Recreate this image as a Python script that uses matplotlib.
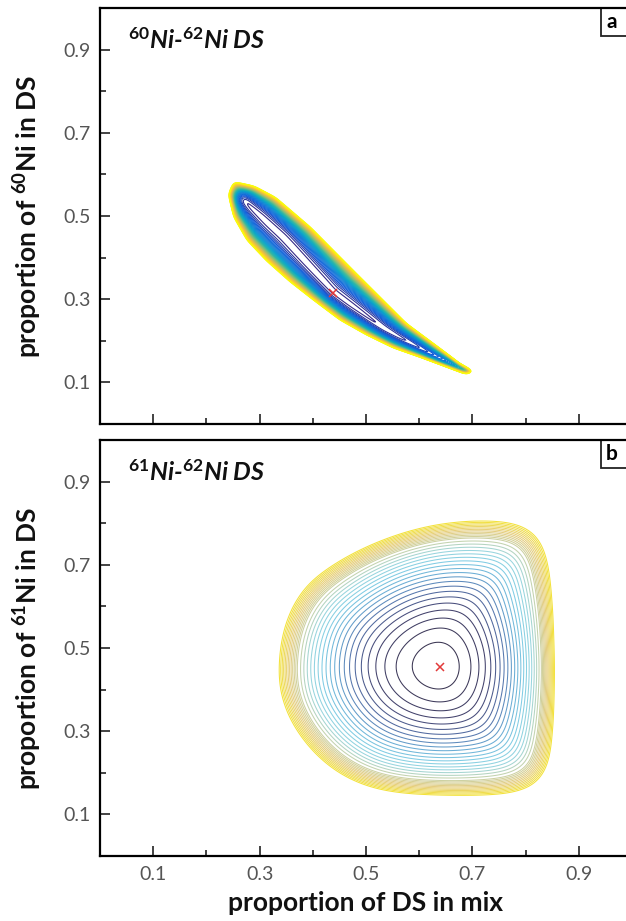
import numpy as np
import matplotlib
matplotlib.use("Agg")
import matplotlib.pyplot as plt
from matplotlib.path import Path
from matplotlib.patches import Rectangle
from matplotlib.colors import LinearSegmentedColormap

plt.rcParams['font.family'] = ['Lato', 'DejaVu Sans']
plt.rcParams['mathtext.fontset'] = 'custom'
plt.rcParams['mathtext.rm'] = 'Lato:bold'
plt.rcParams['mathtext.it'] = 'Lato:bold:italic'
plt.rcParams['mathtext.bf'] = 'Lato:bold'

# outline of the 60Ni-62Ni error banana
a_edge_x = [0.251, 0.290, 0.330, 0.395, 0.482, 0.576, 0.677, 0.708,
            0.689, 0.652, 0.602, 0.551, 0.501, 0.451, 0.401, 0.357, 0.313, 0.276, 0.251, 0.241]
a_edge_y = [0.583, 0.572, 0.545, 0.474, 0.362, 0.242, 0.146, 0.126,
            0.118, 0.136, 0.160, 0.183, 0.214, 0.250, 0.298, 0.342, 0.392, 0.442, 0.498, 0.552]
# the valley floor (white streak) inside it
a_ridge_x = [0.270, 0.345, 0.438, 0.533, 0.627, 0.685]
a_ridge_y = [0.537, 0.450, 0.316, 0.228, 0.163, 0.132]
a_best = (0.438, 0.316)

# outline of the 61Ni-62Ni error field (panel b)
b_edge_x = [0.335, 0.338, 0.348, 0.365, 0.390, 0.425, 0.470, 0.520, 0.575, 0.630, 0.690,
            0.750, 0.790, 0.818, 0.835, 0.846, 0.852, 0.855, 0.853, 0.847, 0.835, 0.810,
            0.760, 0.700, 0.630, 0.570, 0.520, 0.475, 0.435, 0.400, 0.372, 0.352, 0.340]
b_edge_y = [0.430, 0.500, 0.560, 0.610, 0.655, 0.690, 0.725, 0.755, 0.780, 0.797, 0.806,
            0.806, 0.798, 0.780, 0.745, 0.680, 0.580, 0.450, 0.330, 0.240, 0.190, 0.162,
            0.148, 0.145, 0.146, 0.150, 0.160, 0.180, 0.210, 0.250, 0.295, 0.340, 0.385]
b_best = (0.640, 0.455)

n_levels_a = 36
n_levels_b = 27

parula = ['#352A87', '#0F5CDD', '#1481D6', '#06A4CA', '#2EB7A4',
          '#87BF77', '#D1BB59', '#FEC832', '#F9FB0E']
pastel = ['#3a3552', '#43426e', '#5470a8', '#68aad4', '#80cde4', '#9ad6de',
          '#c9d2a8', '#e6cd7e', '#f3e23a']
cmap_a = LinearSegmentedColormap.from_list('parula', parula)
cmap_b = LinearSegmentedColormap.from_list('pastel', pastel)

SX, SY = 532.0, 416.0   # pixels per data unit, so distances are in screen px


def seg_min_dist(px, py, xs, ys):
    d = np.full(px.shape, np.inf)
    for i in range(len(xs) - 1):
        ax_, ay_ = xs[i] * SX, ys[i] * SY
        bx, by = xs[i + 1] * SX, ys[i + 1] * SY
        vx, vy = bx - ax_, by - ay_
        L2 = vx * vx + vy * vy
        if L2 == 0:
            t = np.zeros_like(px)
        else:
            t = np.clip(((px - ax_) * vx + (py - ay_) * vy) / L2, 0, 1)
        d = np.minimum(d, np.hypot(px - ax_ - t * vx, py - ay_ - t * vy))
    return d


def blur(z, s=3):
    k = np.exp(-0.5 * (np.arange(-3 * s, 3 * s + 1) / s) ** 2)
    k /= k.sum()
    z = np.apply_along_axis(lambda r: np.convolve(np.pad(r, 3 * s, mode='edge'), k, 'valid'), 0, z)
    z = np.apply_along_axis(lambda r: np.convolve(np.pad(r, 3 * s, mode='edge'), k, 'valid'), 1, z)
    return z


def misfit(ex, ey, rx, ry, power, s):
    xg = np.linspace(0, 1, 540)
    yg = np.linspace(0, 1, 420)
    X, Y = np.meshgrid(xg, yg)
    px, py = X * SX, Y * SY
    bx = list(ex) + [ex[0]]
    by = list(ey) + [ey[0]]
    db = seg_min_dist(px, py, bx, by)
    dc = seg_min_dist(px, py, rx, ry)
    inside = Path(np.column_stack([ex, ey])).contains_points(
        np.column_stack([X.ravel(), Y.ravel()])).reshape(X.shape)
    # 0 on the valley floor, 1 on the outer edge, rising on past it
    t = np.where(inside, dc / (dc + db + 1e-9), 1 + db / (dc + 1e-9))
    t = np.minimum(t, 3.0)
    return X, Y, blur(t ** power, s)


fig = plt.figure(figsize=(6.26, 9.21), dpi=100)
W, H = 626.0, 921.0
ax_a = fig.add_axes([100 / W, (H - 424) / H, 532 / W, 416 / H])
ax_b = fig.add_axes([100 / W, (H - 856) / H, 532 / W, 416 / H])

panels = [
    (ax_a, a_edge_x, a_edge_y, a_ridge_x, a_ridge_y, a_best, n_levels_a, cmap_a, 2.0, 3, 0.8,
     r'$^{60}$Ni-$^{62}$Ni DS', r'proportion of $^{60}$Ni in DS', 'a'),
    (ax_b, b_edge_x, b_edge_y, [b_best[0], b_best[0]], [b_best[1], b_best[1]], b_best,
     n_levels_b, cmap_b, 2.2, 13, 0.75,
     r'$^{61}$Ni-$^{62}$Ni DS', r'proportion of $^{61}$Ni in DS', 'b'),
]

for ax, ex, ey, rx, ry, best, nl, cm, pw, sm, lw, title, ylab, tag in panels:
    X, Y, Z = misfit(ex, ey, rx, ry, pw, sm)
    levels = np.arange(1, nl + 1) / nl
    # the outermost rings crowd together into a solid yellow rim
    rim = levels[-6:] - 0.5 / nl
    levels = np.sort(np.concatenate([levels, rim]))
    ax.contour(X, Y, Z, levels=levels, cmap=cm, vmin=levels[0], vmax=1.0, linewidths=lw)
    ax.plot(best[0], best[1], marker='x', color='#e23a3a', ms=6, mew=1.1, ls='none')

    ax.set_xlim(0, 1)
    ax.set_ylim(0, 1)
    ax.set_xticks([0.1, 0.3, 0.5, 0.7, 0.9])
    ax.set_xticks([0.2, 0.4, 0.6, 0.8], minor=True)
    ax.set_yticks([0.1, 0.3, 0.5, 0.7, 0.9])
    ax.set_yticks([0.2, 0.4, 0.6, 0.8], minor=True)
    ax.set_xticklabels(['0.1', '0.3', '0.5', '0.7', '0.9'])
    ax.set_yticklabels(['0.1', '0.3', '0.5', '0.7', '0.9'])
    ax.tick_params(which='both', direction='in', colors='#222222', labelcolor='#555555',
                   labelsize=14, width=1.2, pad=7)
    ax.tick_params(which='major', length=7)
    ax.tick_params(which='minor', length=4)
    for s in ax.spines.values():
        s.set_linewidth(1.6)
    ax.spines['right'].set_visible(False)

    ax.text(0.053, 0.923, title, transform=ax.transAxes, fontsize=18,
            fontweight='bold', fontstyle='italic', va='center', ha='left', color='#111111')
    ax.set_ylabel(ylab, fontsize=19, fontweight='bold', color='#111111')
    ax.yaxis.set_label_coords(-0.105, 0.5)

    ax.add_patch(Rectangle((0.942, 0.933), 0.2, 0.067, transform=ax.transAxes,
                           facecolor='white', edgecolor='#222222', lw=1.3, clip_on=False))
    ax.text(0.962, 0.966, tag, transform=ax.transAxes, fontsize=15, fontweight='bold',
            ha='center', va='center')

ax_a.tick_params(labelbottom=False)
ax_b.set_xlabel('proportion of DS in mix', fontsize=19, fontweight='bold', color='#111111')
ax_b.xaxis.set_label_coords(0.5, -0.085)

fig.savefig('out.png', dpi=100)
